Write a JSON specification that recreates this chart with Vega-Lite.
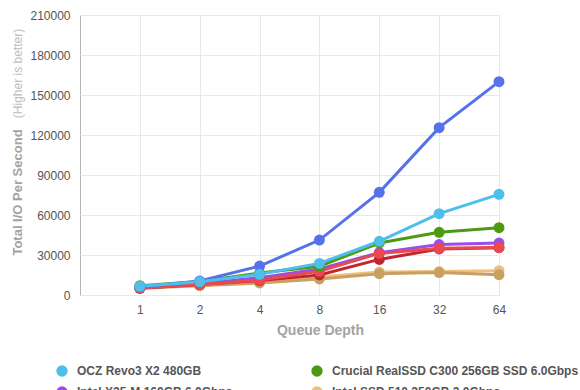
{
  "$schema": "https://vega.github.io/schema/vega-lite/v6.json",
  "width": 419,
  "height": 280,
  "autosize": {"type": "none"},
  "padding": {"left": 80, "top": 15, "right": 81, "bottom": 95},
  "background": "white",
  "config": {
    "font": "Liberation Sans",
    "view": {"stroke": "#b5b5b5", "strokeWidth": 1},
    "axis": {"gridColor": "#e8e8e8", "gridWidth": 1, "ticks": false, "domain": false}
  },
  "data": {
    "values": [
      {"q": 1, "s": "Intel SSD 510 250GB 3.0Gbps", "v": 5200},
      {"q": 2, "s": "Intel SSD 510 250GB 3.0Gbps", "v": 7500},
      {"q": 4, "s": "Intel SSD 510 250GB 3.0Gbps", "v": 9500},
      {"q": 8, "s": "Intel SSD 510 250GB 3.0Gbps", "v": 13500},
      {"q": 16, "s": "Intel SSD 510 250GB 3.0Gbps", "v": 17200},
      {"q": 32, "s": "Intel SSD 510 250GB 3.0Gbps", "v": 17600},
      {"q": 64, "s": "Intel SSD 510 250GB 3.0Gbps", "v": 18200},
      {"q": 1, "s": "Intel SSD 510 250GB 6.0Gbps", "v": 5000},
      {"q": 2, "s": "Intel SSD 510 250GB 6.0Gbps", "v": 7000},
      {"q": 4, "s": "Intel SSD 510 250GB 6.0Gbps", "v": 9000},
      {"q": 8, "s": "Intel SSD 510 250GB 6.0Gbps", "v": 12000},
      {"q": 16, "s": "Intel SSD 510 250GB 6.0Gbps", "v": 16000},
      {"q": 32, "s": "Intel SSD 510 250GB 6.0Gbps", "v": 16800},
      {"q": 64, "s": "Intel SSD 510 250GB 6.0Gbps", "v": 15200},
      {"q": 1, "s": "OCZ Vertex 3 240GB 3.0Gbps", "v": 5000},
      {"q": 2, "s": "OCZ Vertex 3 240GB 3.0Gbps", "v": 7800},
      {"q": 4, "s": "OCZ Vertex 3 240GB 3.0Gbps", "v": 10800},
      {"q": 8, "s": "OCZ Vertex 3 240GB 3.0Gbps", "v": 15000},
      {"q": 16, "s": "OCZ Vertex 3 240GB 3.0Gbps", "v": 26700},
      {"q": 32, "s": "OCZ Vertex 3 240GB 3.0Gbps", "v": 34500},
      {"q": 64, "s": "OCZ Vertex 3 240GB 3.0Gbps", "v": 35500},
      {"q": 1, "s": "Intel X25-M 160GB 6.0Gbps", "v": 5500},
      {"q": 2, "s": "Intel X25-M 160GB 6.0Gbps", "v": 8500},
      {"q": 4, "s": "Intel X25-M 160GB 6.0Gbps", "v": 13000},
      {"q": 8, "s": "Intel X25-M 160GB 6.0Gbps", "v": 19500},
      {"q": 16, "s": "Intel X25-M 160GB 6.0Gbps", "v": 31800},
      {"q": 32, "s": "Intel X25-M 160GB 6.0Gbps", "v": 37800},
      {"q": 64, "s": "Intel X25-M 160GB 6.0Gbps", "v": 39000},
      {"q": 1, "s": "OCZ Vertex 3 240GB 6.0Gbps", "v": 5300},
      {"q": 2, "s": "OCZ Vertex 3 240GB 6.0Gbps", "v": 7800},
      {"q": 4, "s": "OCZ Vertex 3 240GB 6.0Gbps", "v": 11200},
      {"q": 8, "s": "OCZ Vertex 3 240GB 6.0Gbps", "v": 17800},
      {"q": 16, "s": "OCZ Vertex 3 240GB 6.0Gbps", "v": 31200},
      {"q": 32, "s": "OCZ Vertex 3 240GB 6.0Gbps", "v": 35000},
      {"q": 64, "s": "OCZ Vertex 3 240GB 6.0Gbps", "v": 35700},
      {"q": 1, "s": "Crucial RealSSD C300 256GB SSD 6.0Gbps", "v": 7000},
      {"q": 2, "s": "Crucial RealSSD C300 256GB SSD 6.0Gbps", "v": 10200},
      {"q": 4, "s": "Crucial RealSSD C300 256GB SSD 6.0Gbps", "v": 16500},
      {"q": 8, "s": "Crucial RealSSD C300 256GB SSD 6.0Gbps", "v": 21500},
      {"q": 16, "s": "Crucial RealSSD C300 256GB SSD 6.0Gbps", "v": 39000},
      {"q": 32, "s": "Crucial RealSSD C300 256GB SSD 6.0Gbps", "v": 47000},
      {"q": 64, "s": "Crucial RealSSD C300 256GB SSD 6.0Gbps", "v": 50500},
      {"q": 1, "s": "OCZ Revo3 X2 240GB", "v": 6000},
      {"q": 2, "s": "OCZ Revo3 X2 240GB", "v": 10500},
      {"q": 4, "s": "OCZ Revo3 X2 240GB", "v": 21700},
      {"q": 8, "s": "OCZ Revo3 X2 240GB", "v": 41200},
      {"q": 16, "s": "OCZ Revo3 X2 240GB", "v": 77000},
      {"q": 32, "s": "OCZ Revo3 X2 240GB", "v": 125500},
      {"q": 64, "s": "OCZ Revo3 X2 240GB", "v": 160000},
      {"q": 1, "s": "OCZ Revo3 X2 480GB", "v": 6500},
      {"q": 2, "s": "OCZ Revo3 X2 480GB", "v": 10000},
      {"q": 4, "s": "OCZ Revo3 X2 480GB", "v": 15500},
      {"q": 8, "s": "OCZ Revo3 X2 480GB", "v": 23700},
      {"q": 16, "s": "OCZ Revo3 X2 480GB", "v": 40300},
      {"q": 32, "s": "OCZ Revo3 X2 480GB", "v": 61000},
      {"q": 64, "s": "OCZ Revo3 X2 480GB", "v": 75500}
    ]
  },
  "encoding": {
    "x": {
      "field": "q", "type": "quantitative",
      "scale": {"type": "log", "base": 2, "domain": [0.5, 64], "nice": false},
      "axis": {
        "values": [1, 2, 4, 8, 16, 32, 64], "format": "d",
        "title": "Queue Depth", "titleFontSize": 14, "titleFontWeight": "bold", "titleColor": "#a3a3a3",
        "titlePadding": 8, "titleX": 240,
        "labelFontSize": 12, "labelColor": "#555555", "labelPadding": 9, "labelFlush": false
      }
    },
    "y": {
      "field": "v", "type": "quantitative",
      "scale": {"domain": [0, 210000], "nice": false}
    },
    "color": {
      "field": "s", "type": "nominal",
      "scale": {
        "domain": ["OCZ Revo3 X2 480GB", "Crucial RealSSD C300 256GB SSD 6.0Gbps", "Intel X25-M 160GB 6.0Gbps", "Intel SSD 510 250GB 3.0Gbps", "OCZ Revo3 X2 240GB", "OCZ Vertex 3 240GB 6.0Gbps", "OCZ Vertex 3 240GB 3.0Gbps", "Intel SSD 510 250GB 6.0Gbps"],
        "range": ["#4dbfea", "#4b9a12", "#9b4de8", "#ecc07e", "#5572ea", "#e84a4f", "#c0262e", "#c9a061"]
      },
      "legend": {
        "orient": "none", "legendX": -24, "legendY": 350, "columns": 2, "direction": "horizontal", "title": null,
        "symbolType": "circle", "symbolSize": 130, "symbolStrokeWidth": 0,
        "labelFontSize": 12, "labelFontWeight": "bold", "labelColor": "#555555",
        "labelLimit": 400, "columnPadding": 67, "rowPadding": 9, "labelOffset": 9
      }
    }
  },
  "layer": [
    {
      "mark": {"type": "line", "strokeWidth": 3},
      "encoding": {
        "detail": {"field": "s"},
        "y": {
          "field": "v", "type": "quantitative",
          "axis": {
            "orient": "left", "values": [0, 30000, 60000, 90000, 120000, 150000, 180000, 210000],
            "format": "d", "labelFontSize": 12, "labelColor": "#555555", "labelPadding": 10,
            "title": "Total I/O Per Second", "titleFontSize": 13, "titleFontWeight": "bold",
            "titleColor": "#a3a3a3", "titleX": -63, "titleY": 177, "titleAnchor": "middle", "titleBaseline": "middle"
          }
        }
      }
    },
    {
      "mark": {"type": "point", "filled": true, "size": 120, "opacity": 1},
      "encoding": {
        "y": {
          "field": "v", "type": "quantitative",
          "axis": {
            "orient": "left", "labels": false, "grid": false, "ticks": false, "domain": false,
            "title": "(Higher is better)", "titleFontSize": 12, "titleFontWeight": "normal",
            "titleColor": "#bdbdbd", "titleX": -63, "titleY": 58, "titleAnchor": "middle", "titleBaseline": "middle"
          }
        }
      }
    }
  ],
  "resolve": {"axis": {"y": "independent"}}
}
